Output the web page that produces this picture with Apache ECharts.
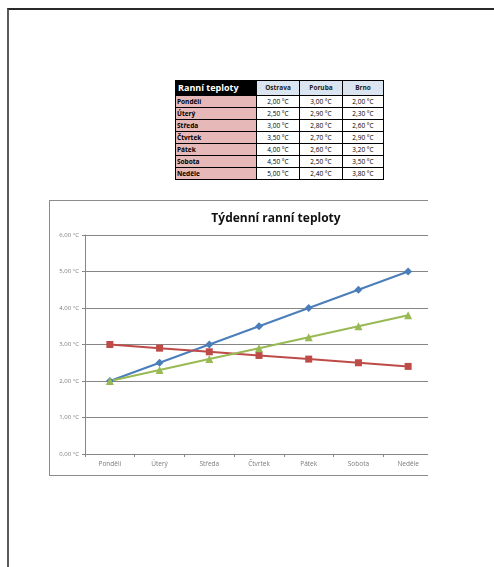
<!DOCTYPE html>
<html>
<head>
<meta charset="utf-8">
<script src="https://cdn.jsdelivr.net/npm/echarts@6/dist/echarts.min.js"></script>
<style>
  html, body { margin: 0; padding: 0; background: #fff; width: 494px; height: 567px; overflow: hidden; }
  #page { position: absolute; left: 7px; top: 8px; width: 500px; height: 580px;
          border-top: 2px solid #2a2a2a; border-left: 2px solid #5a5a5a; box-sizing: border-box; }
  #tbl { position: absolute; left: 175px; top: 80px; border-collapse: collapse;
         font-family: "Open Sans", "Liberation Sans", sans-serif; font-size: 6.5px; border: 1.5px solid #000; color: #000; }
  #tbl td, #tbl th { border: 1px solid #000; padding: 0; height: 11px; line-height: 11px; white-space: nowrap; }
  #tbl th { height: 14px; line-height: 14px; background: #dbe5f1; font-weight: bold; text-align: center; color: #222; }
  #tbl th.first { background: #000; color: #fff; font-size: 9px; text-align: left; padding-left: 2px; }
  #tbl td.day { background: #e6b8b7; font-weight: bold; text-align: left; padding-left: 1px; }
  #tbl td.val { background: #fff; text-align: center; }
  #frame { position: absolute; left: 49px; top: 200px; width: 379px; height: 276px; box-sizing: border-box;
           border-top: 1px solid #8c8c8c; border-left: 1px solid #8c8c8c; border-bottom: 1px solid #8c8c8c; }
  #clip { position: absolute; left: 50px; top: 201px; width: 378px; height: 274px; overflow: hidden; }
  #chart { position: absolute; left: 0; top: 0; width: 386px; height: 274px; }
</style>
</head>
<body>
<div id="page"></div>
<table id="tbl"></table>
<div id="frame"></div>
<div id="clip"><div id="chart"></div></div>
<script>
const tableTitle = "Ranní teploty";
const chartTitle = "Týdenní ranní teploty";
const days = ["Pondělí", "Úterý", "Středa", "Čtvrtek", "Pátek", "Sobota", "Neděle"];
const seriesNames = ["Ostrava", "Poruba", "Brno"];
const ostrava = [2.00, 2.50, 3.00, 3.50, 4.00, 4.50, 5.00];
const poruba = [3.00, 2.90, 2.80, 2.70, 2.60, 2.50, 2.40];
const brno = [2.00, 2.30, 2.60, 2.90, 3.20, 3.50, 3.80];
const yTicks = [0, 1, 2, 3, 4, 5, 6];

const fmt = v => v.toFixed(2).replace('.', ',') + ' °C';
const allSeries = [ostrava, poruba, brno];

// table
const tbl = document.getElementById('tbl');
const colW = [80, 42, 42, 40];
let html = '<tr><th class="first" style="width:' + (colW[0]-2) + 'px">' + tableTitle + '</th>';
seriesNames.forEach((n, i) => { html += '<th style="width:' + colW[i+1] + 'px">' + n + '</th>'; });
html += '</tr>';
days.forEach((d, r) => {
  html += '<tr><td class="day">' + d + '</td>';
  allSeries.forEach(s => { html += '<td class="val">' + fmt(s[r]) + '</td>'; });
  html += '</tr>';
});
tbl.innerHTML = html;

const chart = echarts.init(document.getElementById('chart'));
const colors = ['#4a7ebb', '#be4b48', '#98b954'];
const symbols = ['diamond', 'rect', 'triangle'];
const sizes = [8, 7, 8];
chart.setOption({
  animation: false,
  title: {
    text: chartTitle, left: 221, top: 7, textAlign: 'center',
    textStyle: { fontFamily: 'Open Sans, Liberation Sans, sans-serif', fontSize: 12, fontWeight: 'bold', color: '#111' }
  },
  grid: { left: 35, right: 3, top: 34, bottom: 21 },
  xAxis: {
    type: 'category', data: days, boundaryGap: true,
    axisLine: { lineStyle: { color: '#868686', width: 1 } },
    axisTick: { show: true, length: 3, lineStyle: { color: '#868686' } },
    axisLabel: { color: '#7a7a7a', fontSize: 6.5, margin: 7, fontFamily: 'Open Sans, sans-serif', interval: 0 }
  },
  yAxis: {
    type: 'value', min: 0, max: 6, interval: 1,
    axisLine: { show: true, lineStyle: { color: '#868686', width: 1 } },
    axisTick: { show: true, length: 3, lineStyle: { color: '#868686' } },
    splitLine: { show: true, lineStyle: { color: '#868686', width: 1 } },
    axisLabel: { color: '#7a7a7a', fontSize: 6, margin: 6, fontFamily: 'Open Sans, sans-serif',
                 formatter: v => yTicks.includes(v) ? fmt(v) : '' }
  },
  series: allSeries.map((s, i) => ({
    name: seriesNames[i], type: 'line', data: s,
    symbol: symbols[i], symbolSize: sizes[i],
    lineStyle: { color: colors[i], width: 2 },
    itemStyle: { color: colors[i] }
  }))
});
</script>
</body>
</html>
